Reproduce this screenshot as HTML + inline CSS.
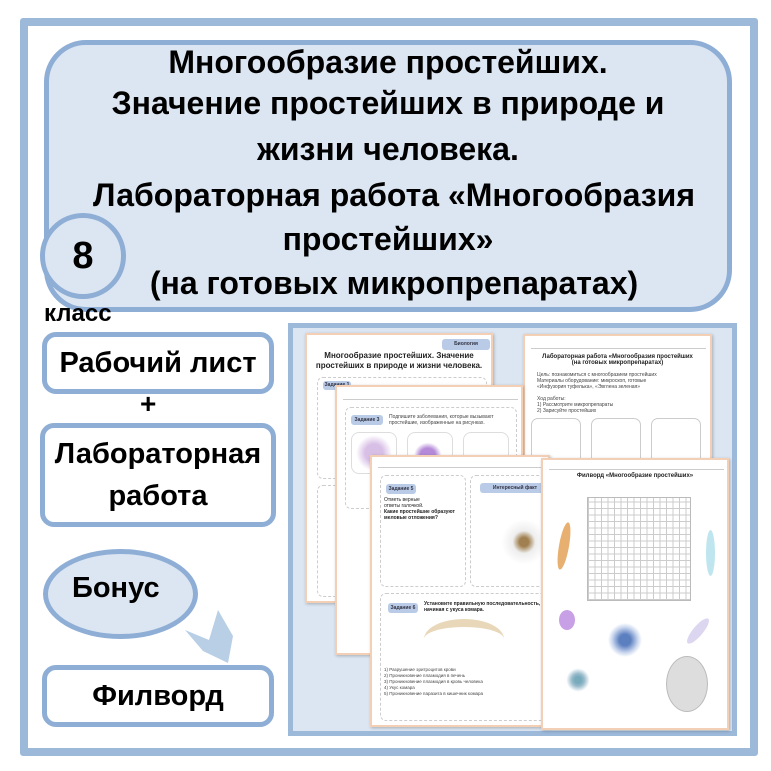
<!DOCTYPE html>
<html><head><meta charset="utf-8"><style>
body{margin:0;width:771px;height:771px;background:#fff;position:relative;overflow:hidden;font-family:"Liberation Sans","DejaVu Sans",sans-serif}
.a{position:absolute;box-sizing:border-box}
.t{font-weight:bold;color:#000;text-align:center}
.tl{position:absolute;left:44px;width:688px;text-align:center;font-weight:bold;font-size:32px;line-height:36px;height:36px;white-space:nowrap}
.box{background:#fff;border:5px solid #8eaed6;border-radius:14px;display:flex;align-items:center;justify-content:center;font-weight:bold;font-size:29px}
.pg{background:#fff;border:2px solid #f3cfb5;box-shadow:1px 1px 3px rgba(0,0,0,.25);overflow:hidden;font-size:5px;color:#444}
.ln{position:absolute;height:1px;background:#999}
.tag{position:absolute;background:#b9cbe6;border-radius:3px;font-size:5px;font-weight:bold;color:#334;text-align:center}
.dash{position:absolute;border:1px dashed #ccc;border-radius:6px}
</style></head><body>
<div class="a" style="left:20px;top:18px;width:738px;height:738px;border:8px solid #9db9da;border-radius:3px"></div>
<div class="a" style="left:44px;top:40px;width:688px;height:272px;background:#dce6f2;border:5px solid #8eaed6;border-radius:42px"></div>
<div class="tl" style="top:44px">Многообразие простейших.</div>
<div class="tl" style="top:85px">Значение простейших в природе и</div>
<div class="tl" style="top:131px">жизни человека.</div>
<div class="tl" style="top:177px;left:50px">Лабораторная работа «Многообразия</div>
<div class="tl" style="top:221px">простейших»</div>
<div class="tl" style="top:265px;left:50px">(на готовых микропрепаратах)</div>
<div class="a" style="left:40px;top:213px;width:86px;height:86px;border-radius:50%;background:#dce6f2;border:5px solid #8eaed6;display:flex;align-items:center;justify-content:center;font-weight:bold;font-size:38px">8</div>
<div class="a t" style="left:44px;top:300px;font-size:24px;text-align:left">класс</div>
<div class="a box" style="left:42px;top:332px;width:232px;height:62px">Рабочий лист</div>
<div class="a t" style="left:140px;top:388px;font-size:28px">+</div>
<div class="a box" style="left:40px;top:423px;width:236px;height:104px;font-size:29px;line-height:42px;text-align:center">Лабораторная<br>работа</div>
<div class="a" style="left:43px;top:549px;width:155px;height:90px;border-radius:50%;background:#dce6f2;border:5px solid #8eaed6"></div>
<div class="a t" style="left:72px;top:572px;font-size:29px">Бонус</div>
<svg class="a" style="left:0;top:0" width="771" height="771"><polygon points="185,630 209,640 218,610 233,636 228,663 203,651" fill="#b8cfe6"/></svg>
<div class="a box" style="left:42px;top:665px;width:232px;height:62px">Филворд</div>
<div class="a" style="left:288px;top:323px;width:449px;height:413px;background:#dce6f2;border:5px solid #9db9da"></div>
<!-- page1 -->
<div class="a pg" style="left:305px;top:333px;width:188px;height:270px">
<div class="tag" style="left:135px;top:4px;width:48px;height:11px;line-height:11px">Биология</div>
<div style="position:absolute;top:16px;width:100%;text-align:center;font-size:8px;font-weight:bold;color:#222;line-height:10px">Многообразие простейших. Значение<br>простейших в природе и жизни человека.</div>
<div class="dash" style="left:10px;top:42px;width:168px;height:100px"></div>
<div class="tag" style="left:16px;top:46px;width:28px;height:9px;line-height:9px">Задание 1</div>
<div class="dash" style="left:10px;top:150px;width:168px;height:110px"></div>
</div>
<!-- page4 -->
<div class="a pg" style="left:523px;top:334px;width:189px;height:273px">
<div class="ln" style="left:6px;top:12px;width:175px;background:#ccc"></div>
<div style="position:absolute;top:18px;width:100%;text-align:center;font-size:6px;font-weight:bold;color:#222">Лабораторная работа «Многообразия простейших<br>(на готовых микропрепаратах)</div>
<div style="position:absolute;left:12px;top:36px;font-size:5px">Цель: познакомиться с многообразием простейших<br>Материалы оборудование: микроскоп, готовые<br>«Инфузория туфелька», «Эвглена зеленая»<br><br>Ход работы:<br>1) Рассмотрите микропрепараты<br>2) Зарисуйте простейших</div>
<div class="a" style="left:6px;top:82px;width:50px;height:46px;border:1px solid #ccc;border-radius:7px"></div>
<div class="a" style="left:66px;top:82px;width:50px;height:46px;border:1px solid #ccc;border-radius:7px"></div>
<div class="a" style="left:126px;top:82px;width:50px;height:46px;border:1px solid #ccc;border-radius:7px"></div>
</div>
<!-- page2 -->
<div class="a pg" style="left:335px;top:385px;width:188px;height:270px">
<div class="ln" style="left:6px;top:12px;width:175px;background:#ccc"></div>
<div class="dash" style="left:8px;top:20px;width:170px;height:100px"></div>
<div class="tag" style="left:14px;top:28px;width:32px;height:10px;line-height:10px">Задание 3</div>
<div style="position:absolute;left:52px;top:27px;font-size:5px">Подпишите заболевания, которые вызывают<br>простейшие, изображенные на рисунках.</div>
<div class="a" style="left:14px;top:45px;width:46px;height:42px;border:1px solid #ddd;border-radius:8px;background:radial-gradient(circle at 50% 50%,#d8bfe6 30%,#fff 60%)"></div>
<div class="a" style="left:70px;top:45px;width:46px;height:42px;border:1px solid #ddd;border-radius:8px;background:radial-gradient(ellipse at 45% 55%,#b58ad8 22%,#fff 40%)"></div>
<div class="a" style="left:126px;top:45px;width:46px;height:42px;border:1px solid #ddd;border-radius:8px"></div>
</div>
<!-- page3 -->
<div class="a pg" style="left:370px;top:455px;width:180px;height:272px">
<div class="ln" style="left:6px;top:10px;width:170px;background:#ccc"></div>
<div class="dash" style="left:8px;top:18px;width:84px;height:110px"></div>
<div class="tag" style="left:14px;top:27px;width:30px;height:10px;line-height:10px">Задание 5</div>
<div style="position:absolute;left:12px;top:40px;font-size:5px;color:#222">Отметь верные<br>ответы галочкой.<br><b>Какие простейшие образуют<br>меловые отложения?</b></div>
<div class="dash" style="left:98px;top:18px;width:90px;height:110px"></div>
<div class="tag" style="left:108px;top:26px;width:70px;height:10px;line-height:10px">Интересный факт</div>
<div class="a" style="left:122px;top:62px;width:60px;height:46px;background:radial-gradient(circle,#a08050 12%,#eee 30%,#fff 60%)"></div>
<div class="dash" style="left:8px;top:136px;width:180px;height:126px"></div>
<div class="tag" style="left:16px;top:146px;width:30px;height:10px;line-height:10px">Задание 6</div>
<div style="position:absolute;left:52px;top:144px;font-size:5px;font-weight:bold;color:#222">Установите правильную последовательность,<br>начиная с укуса комара.</div>
<div class="a" style="left:52px;top:162px;width:80px;height:40px;border-top:8px solid #e8d7b8;border-radius:50% 50% 0 0"></div>
<div style="position:absolute;left:12px;top:210px;font-size:4.5px;line-height:6px">1) Разрушение эритроцитов крови<br>2) Проникновение плазмодия в печень<br>3) Проникновение плазмодия в кровь человека<br>4) Укус комара<br>5) Проникновение паразита в кишечник комара</div>
</div>
<!-- page5 -->
<div class="a pg" style="left:541px;top:458px;width:188px;height:272px">
<div class="ln" style="left:6px;top:9px;width:175px;background:#ccc"></div>
<div style="position:absolute;top:13px;width:100%;text-align:center;font-size:6px;font-weight:bold;color:#222">Филворд «Многообразие простейших»</div>
<div class="a" style="left:44px;top:37px;width:104px;height:104px;border:1px solid #bbb;background:repeating-linear-gradient(0deg,#ccc 0 1px,transparent 1px 6.5px),repeating-linear-gradient(90deg,#ccc 0 1px,transparent 1px 6.5px)"></div>
<div class="a" style="left:16px;top:62px;width:10px;height:48px;border-radius:50%;background:#e8b070;transform:rotate(10deg)"></div>
<div class="a" style="left:163px;top:70px;width:9px;height:46px;border-radius:50%;background:#bfe6ef"></div>
<div class="a" style="left:16px;top:150px;width:16px;height:20px;border-radius:50%;background:#c8a0e6"></div>
<div class="a" style="left:150px;top:155px;width:10px;height:32px;border-radius:50%;background:#dcd6f0;transform:rotate(40deg)"></div>
<div class="a" style="left:62px;top:160px;width:40px;height:40px;background:radial-gradient(circle,#5b7fbf 20%,#c9d6ee 45%,transparent 60%)"></div>
<div class="a" style="left:20px;top:205px;width:30px;height:30px;background:radial-gradient(circle,#7ab 15%,#9bc 30%,transparent 55%)"></div>
<div class="a" style="left:123px;top:196px;width:42px;height:56px;border-radius:50%;background:#ddd;border:1px solid #bbb"></div>
</div>
</body></html>
